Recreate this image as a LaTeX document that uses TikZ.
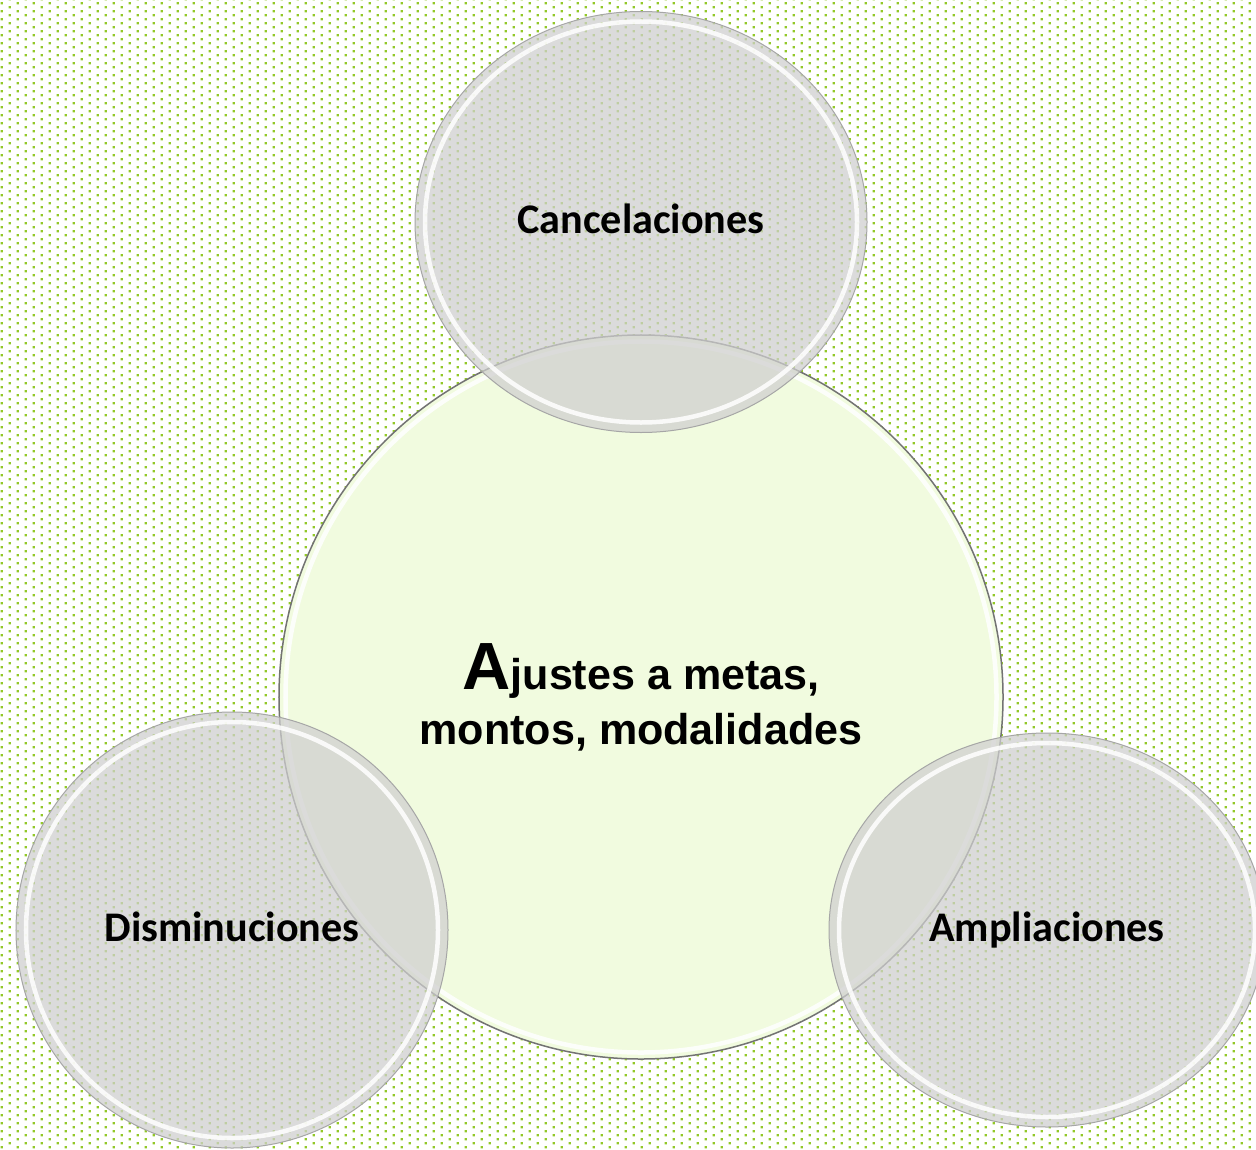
\documentclass[tikz,border=0pt]{standalone}
\usepackage{fontspec}
\setmainfont{Carlito}
\newfontfamily\arialfont{Liberation Sans}
\usetikzlibrary{calc}
\usetikzlibrary{shapes.geometric}
\usetikzlibrary{patterns}
\definecolor{dot colour}{RGB}{146,200,40}
\definecolor{centre colour}{RGB}{241,251,223}
\colorlet{disc colour}{black!19}
\colorlet{rim colour}{black!35}
\colorlet{centre rim colour}{black!55}
% Staggered green dots, one tile is 16 x 8 px of the page
\pgfdeclarepatternformonly{staggered dots}{\pgfpointorigin}{\pgfpoint{9.1pt}{4.55pt}}{\pgfpoint{9.1pt}{4.55pt}}{%
    \pgfpathrectangle{\pgfpoint{0.3pt}{0.3pt}}{\pgfpoint{1.3pt}{1.3pt}}%
    \pgfpathrectangle{\pgfpoint{4.85pt}{2.58pt}}{\pgfpoint{1.3pt}{1.3pt}}%
    \pgfusepath{fill}}
\tikzset{
    % We almost always want centre aligned node text
    every node/.style={align=center},
%
    % Page background
    dotted fill/.style={pattern=staggered dots, pattern color=dot colour},
%
    % White highlight ring drawn #1 inside the rim
    glass ring/.style={path picture={
        \draw [white, line width=0.9mm, draw opacity=0.85]
            let \p1=(path picture bounding box.north east),
                \p2=(path picture bounding box.center) in
            (\p2) ellipse [x radius={\x1-\x2-#1}, y radius={\y1-\y2-#1}];}},
%
    centre disc/.style={
        circle, fill=centre colour, draw=centre rim colour, line width=0.3mm,
        minimum size=144.8mm, inner sep=0, glass ring=1.3mm,
        font=\arialfont\bfseries\fontsize{24.5}{31.3}\selectfont},
    glass disc/.style={
        ellipse, fill=disc colour, fill opacity=0.73, text opacity=1,
        draw=rim colour, line width=0.2mm, inner sep=0, glass ring=2mm,
        font=\bfseries\fontsize{24}{28}\selectfont,
        text height=13pt, text depth=0pt},
}
\begin{document}
\begin{tikzpicture}[
    x=0.2mm, y=-0.2mm]

\useasboundingbox (0,0) rectangle (1256,1149);
\fill [white] (0,0) rectangle (1256,1149);
\fill [dotted fill] (0,0) rectangle (1256,1149);

\node [centre disc] (ajustes) at (641,697)
    {{\fontsize{38}{31.3}\selectfont A}justes a metas,\\montos, modalidades};

\path
    (641,222) node [glass disc, minimum width=90.4mm, minimum height=84.2mm]
        (cancel) {Cancelaciones}
    (232,930) node [glass disc, minimum width=86.4mm, minimum height=87.2mm]
        (dismin) {Disminuciones}
    (1047,930) node [glass disc, minimum width=87.2mm, minimum height=78.8mm]
        (amplia) {Ampliaciones};

\end{tikzpicture}
\end{document}
